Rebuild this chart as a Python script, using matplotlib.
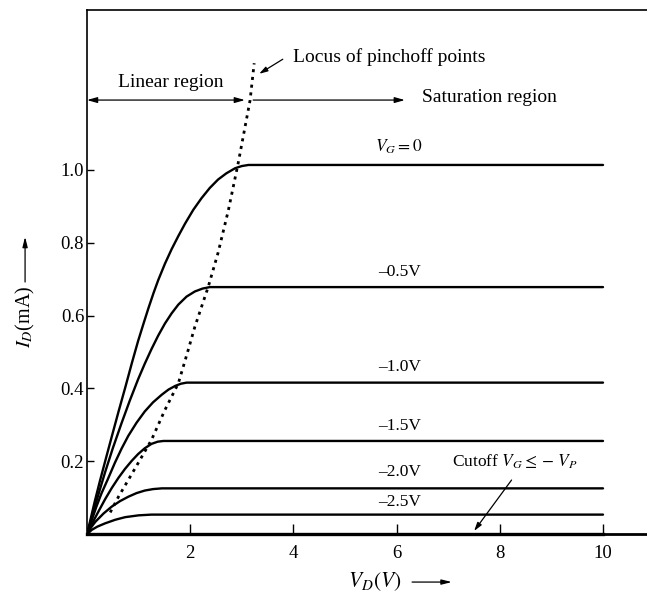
import numpy as np
import matplotlib.pyplot as plt

plt.rcParams['font.family'] = ['Liberation Serif', 'DejaVu Serif']
plt.rcParams['mathtext.fontset'] = 'stix'

# ---------------- Data ---------------- #

# drain voltage V_D (V) and drain current I_D (mA) for each gate voltage
vd_g00 = [0.0, 0.05, 0.15, 0.25, 0.37, 0.48, 0.61, 0.74, 0.87, 0.99, 1.10, 1.19, 1.29, 1.38,
          1.51, 1.64, 1.77, 1.90, 2.06, 2.22, 2.38, 2.54, 2.70, 2.87, 3.00, 3.13, 10.0]
id_g00 = [0.0, 0.030, 0.090, 0.146, 0.210, 0.268, 0.336, 0.402, 0.470, 0.530, 0.580, 0.620, 0.662, 0.697,
          0.742, 0.782, 0.818, 0.852, 0.890, 0.922, 0.950, 0.973, 0.990, 1.004, 1.010, 1.013, 1.013]

vd_g05 = [0.0, 0.05, 0.15, 0.25, 0.35, 0.50, 0.67, 0.83, 0.99, 1.12, 1.25, 1.38, 1.51, 1.64,
          1.77, 1.93, 2.09, 2.24, 2.38, 10.0]
id_g05 = [0.0, 0.025, 0.075, 0.123, 0.170, 0.236, 0.305, 0.367, 0.425, 0.468, 0.508, 0.545, 0.578, 0.606,
          0.630, 0.652, 0.666, 0.674, 0.678, 0.678]

vd_g10 = [0.0, 0.09, 0.18, 0.28, 0.40, 0.54, 0.67, 0.80, 0.96, 1.12, 1.28, 1.45, 1.58, 1.71, 1.82, 1.93, 10.0]
id_g10 = [0.0, 0.038, 0.075, 0.112, 0.150, 0.196, 0.235, 0.270, 0.306, 0.337, 0.362, 0.383, 0.397, 0.407, 0.413, 0.416, 0.416]

vd_g15 = [0.0, 0.10, 0.22, 0.35, 0.48, 0.61, 0.74, 0.87, 0.99, 1.12, 1.25, 1.37, 1.48, 10.0]
id_g15 = [0.0, 0.030, 0.062, 0.096, 0.127, 0.155, 0.180, 0.202, 0.220, 0.236, 0.248, 0.254, 0.256, 0.256]

vd_g20 = [0.0, 0.08, 0.16, 0.32, 0.48, 0.64, 0.80, 0.96, 1.12, 1.28, 1.45, 10.0]
id_g20 = [0.0, 0.019, 0.034, 0.057, 0.076, 0.091, 0.103, 0.113, 0.120, 0.124, 0.126, 0.126]

vd_g25 = [0.0, 0.09, 0.20, 0.35, 0.55, 0.74, 1.00, 1.25, 10.0]
id_g25 = [0.0, 0.012, 0.021, 0.030, 0.040, 0.047, 0.052, 0.054, 0.054]

# cutoff curve lies on the V_D axis
vd_cut = [0.0, 10.0]
id_cut = [0.0, 0.0]

# locus of pinch-off points (dotted)
vd_locus = [0.45, 0.61, 0.99, 1.25, 1.51, 1.77, 1.96, 2.09, 2.35, 2.54, 2.74, 2.93, 3.16, 3.24]
id_locus = [0.06, 0.103, 0.195, 0.259, 0.341, 0.414, 0.505, 0.569, 0.679, 0.772, 0.889, 1.018, 1.19, 1.292]

curve_labels = [r"$V_G = 0$", "\u20130.5V", "\u20131.0V", "\u20131.5V", "\u20132.0V", "\u20132.5V"]
x_ticks = [2, 4, 6, 8, 10]
y_ticks = [0.2, 0.4, 0.6, 0.8, 1.0]

# ---------------- Plot ---------------- #

fig = plt.figure(figsize=(6.47, 6.05), dpi=100)
ax = fig.add_axes([87 / 647, (605 - 534.3) / 605, 1 - 87 / 647, (534.3 - 9.5) / 605])

curves = [(vd_g00, id_g00), (vd_g05, id_g05), (vd_g10, id_g10),
          (vd_g15, id_g15), (vd_g20, id_g20), (vd_g25, id_g25)]
for vd, i_d in curves:
    ax.plot(vd, i_d, color='black', lw=1.7, solid_joinstyle='round', solid_capstyle='round')

ax.plot(vd_cut, id_cut, color='black', lw=2.4, clip_on=False)
ax.plot(vd_locus, id_locus, color='black', lw=2.0, linestyle=(0, (1.1, 1.7)))

ax.set_xlim(0, (647 - 87) / 51.6)
ax.set_ylim(0, (534.3 - 9.5) / 364.6)

ax.spines['right'].set_visible(False)
ax.spines['left'].set_linewidth(1.2)
ax.spines['top'].set_linewidth(1.2)
ax.spines['bottom'].set_linewidth(2.0)

ax.set_xticks(x_ticks)
ax.set_xticklabels([str(t) for t in x_ticks])
ax.set_yticks(y_ticks)
ax.set_yticklabels(["{:.1f}".format(t) for t in y_ticks])
ax.tick_params(axis='x', direction='in', length=7, width=1, pad=8, labelsize=13.5)
ax.tick_params(axis='y', direction='in', length=5, width=1, pad=2, labelsize=13.5)

# curve labels
label_y = [1.063, 0.720, 0.460, 0.298, 0.172, 0.089]
for text, y in zip(curve_labels, label_y):
    ax.text(6.05, y, text, ha='center', va='center', fontsize=12.5)

ax.text(7.07, 0.199, r"Cutoff $V_G \leq -\,V_P$", ha='left', va='center', fontsize=12.5)
ax.annotate('', xy=(7.47, 0.003), xytext=(8.26, 0.155),
            arrowprops=dict(arrowstyle='-|>,head_length=0.5,head_width=0.15', lw=0.9, color='black'))

# region annotations
ax.text(3.99, 1.309, "Locus of pinchoff points", ha='left', va='center', fontsize=14)
ax.annotate('', xy=(3.29, 1.259), xytext=(3.84, 1.307),
            arrowprops=dict(arrowstyle='-|>,head_length=0.5,head_width=0.15', lw=0.9, color='black'))

ax.text(1.62, 1.238, "Linear region", ha='center', va='center', fontsize=14)
ax.annotate('', xy=(0.0, 1.191), xytext=(3.06, 1.191),
            arrowprops=dict(arrowstyle='<|-|>,head_length=0.6,head_width=0.17', lw=0.9,
                            color='black', shrinkA=0, shrinkB=0))
ax.annotate('', xy=(6.16, 1.191), xytext=(3.22, 1.191),
            arrowprops=dict(arrowstyle='-|>,head_length=0.6,head_width=0.17', lw=0.9,
                            color='black', shrinkA=0, shrinkB=0))
ax.text(6.49, 1.197, "Saturation region", ha='left', va='center', fontsize=14)

# axis labels with arrows
ax.text(5.06, -0.131, r"$V_D(V)$", ha='left', va='center', fontsize=15.5, clip_on=False)
ax.annotate('', xy=(7.07, -0.131), xytext=(6.30, -0.131), annotation_clip=False,
            arrowprops=dict(arrowstyle='-|>,head_length=0.6,head_width=0.15', lw=0.9,
                            color='black', shrinkA=0, shrinkB=0))

ax.text(-1.20, 0.597, r"$I_D$(mA)", ha='center', va='center', rotation=90, fontsize=14.5, clip_on=False)
ax.annotate('', xy=(-1.20, 0.816), xytext=(-1.20, 0.692), annotation_clip=False,
            arrowprops=dict(arrowstyle='-|>,head_length=0.6,head_width=0.15', lw=0.9,
                            color='black', shrinkA=0, shrinkB=0))

fig.savefig("out.png", dpi=100)
